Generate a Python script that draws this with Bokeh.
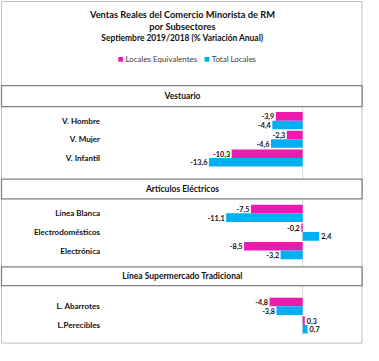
from bokeh.plotting import figure
from bokeh.models import Range1d, ColumnDataSource
from bokeh.embed import file_html
from bokeh.resources import INLINE
from bokeh.core.properties import value

# ---------------- data ----------------
title_lines = ["Ventas Reales del Comercio Minorista de RM",
               "por Subsectores",
               "Septiembre 2019/2018 (% Variación Anual)"]
series_names = ["Locales Equivalentes", "Total Locales"]
sections = ["Vestuario", "Artículos Eléctricos", "Línea Supermercado Tradicional"]
categories = ["V. Hombre", "V. Mujer", "V. Infantil",
              "Línea Blanca", "Electrodomésticos", "Electrónica",
              "L. Abarrotes", "L.Perecibles"]
locales_equivalentes = [-3.9, -2.3, -10.3, -7.5, -0.2, -8.5, -4.8, 0.3]
total_locales = [-4.4, -4.6, -13.6, -11.1, 2.4, -3.2, -3.8, 0.7]

# ---------------- layout (reference pixel space for y) ----------------
W, H = 363, 345
REF_W, REF_H = 379, 361
S = W / REF_W
ZERO_PX = 315.5
PX_PER_UNIT = 7.2

def rx(p):
    return (p - ZERO_PX) / PX_PER_UNIT

def fs(px):
    return value(f"{px * S:.2f}px")

PINK = "#EE1AB0"
BLUE = "#00B0F0"
FONT = "Lato"
TXT = "#111111"

row_y = [125.7, 145.2, 164.8, 222.7, 242.3, 261.7, 320.0, 339.5]
bar_h = 9.0
box_tops = [89.0, 187.0, 278.7]
box_bottoms = [111.0, 207.5, 298.3]
zero_ends = [187.0, 278.7, 351.0]

p = figure(width=W, height=H, output_backend="svg", toolbar_location=None,
           x_range=Range1d(rx(0), rx(REF_W)), y_range=Range1d(REF_H, 0),
           min_border=0, x_axis_location=None, y_axis_location=None)
p.grid.visible = False
p.outline_line_color = None
p.background_fill_color = "white"
p.border_fill_color = "white"

# outer border
p.quad(left=[rx(1)], right=[rx(377.5)], top=[1.0], bottom=[358.5],
       fill_color="white", line_color="#BFBFBF", line_width=1)

# zero lines
p.segment(x0=[0, 0, 0], x1=[0, 0, 0], y0=box_bottoms, y1=zero_ends,
          line_color="#D9D9D9", line_width=1)

# section boxes
p.quad(left=[rx(1)] * 3, right=[rx(377.5)] * 3, top=box_tops, bottom=box_bottoms,
       fill_color="white", line_color="#7F7F7F", line_width=1.3)
p.text(x=[rx(190)] * 3, y=[(t + b) / 2 for t, b in zip(box_tops, box_bottoms)],
       text=sections, text_align="center", text_baseline="middle",
       text_font=value(FONT), text_font_style="bold", text_font_size=fs(8.9),
       text_color=TXT)

# bars
src = ColumnDataSource(dict(
    y1=[y - bar_h / 2 for y in row_y],
    y2=[y + bar_h / 2 for y in row_y],
    le=locales_equivalentes, tl=total_locales))
p.hbar(y="y1", left=0, right="le", height=bar_h, source=src,
       fill_color=PINK, line_color=None)
p.hbar(y="y2", left=0, right="tl", height=bar_h, source=src,
       fill_color=BLUE, line_color=None)

# value labels
def fmt(v):
    return f"{v:.1f}".replace(".", ",")

for vals, off in ((locales_equivalentes, -bar_h / 2), (total_locales, bar_h / 2)):
    neg = [(v, y + off) for v, y in zip(vals, row_y) if v < 0]
    pos = [(v, y + off) for v, y in zip(vals, row_y) if v >= 0]
    if neg:
        p.text(x=[v for v, _ in neg], y=[y for _, y in neg], text=[fmt(v) for v, _ in neg],
               text_align="right", text_baseline="middle", x_offset=-1.5,
               text_font=value(FONT), text_font_style="bold", text_font_size=fs(7.6),
               text_color=TXT)
    if pos:
        p.text(x=[v for v, _ in pos], y=[y for _, y in pos], text=[fmt(v) for v, _ in pos],
               text_align="left", text_baseline="middle", x_offset=2,
               text_font=value(FONT), text_font_style="bold", text_font_size=fs(7.6),
               text_color=TXT)

# category labels
p.text(x=[rx(104)] * len(categories), y=row_y, text=categories,
       text_align="right", text_baseline="middle",
       text_font=value(FONT), text_font_style="bold", text_font_size=fs(8.4),
       text_color=TXT)

# title
p.text(x=[rx(190)] * 3, y=[15.0, 27.0, 39.0], text=title_lines,
       text_align="center", text_baseline="middle",
       text_font=value(FONT), text_font_style="bold",
       text_font_size=[f"{9.7 * S:.2f}px", f"{9.7 * S:.2f}px", f"{8.8 * S:.2f}px"],
       text_color=TXT)

# legend
p.rect(x=[rx(125.5), rx(215.5)], y=[61.5, 61.5], width=5 / PX_PER_UNIT, height=5,
       fill_color=[PINK, BLUE], line_color=None)
p.text(x=[rx(130.5), rx(220.5)], y=[61.5, 61.5], text=series_names,
       text_align="left", text_baseline="middle",
       text_font=value(FONT), text_font_size=fs(8.3), text_color="#404040")

open("out.html", "w").write(file_html(p, INLINE))
